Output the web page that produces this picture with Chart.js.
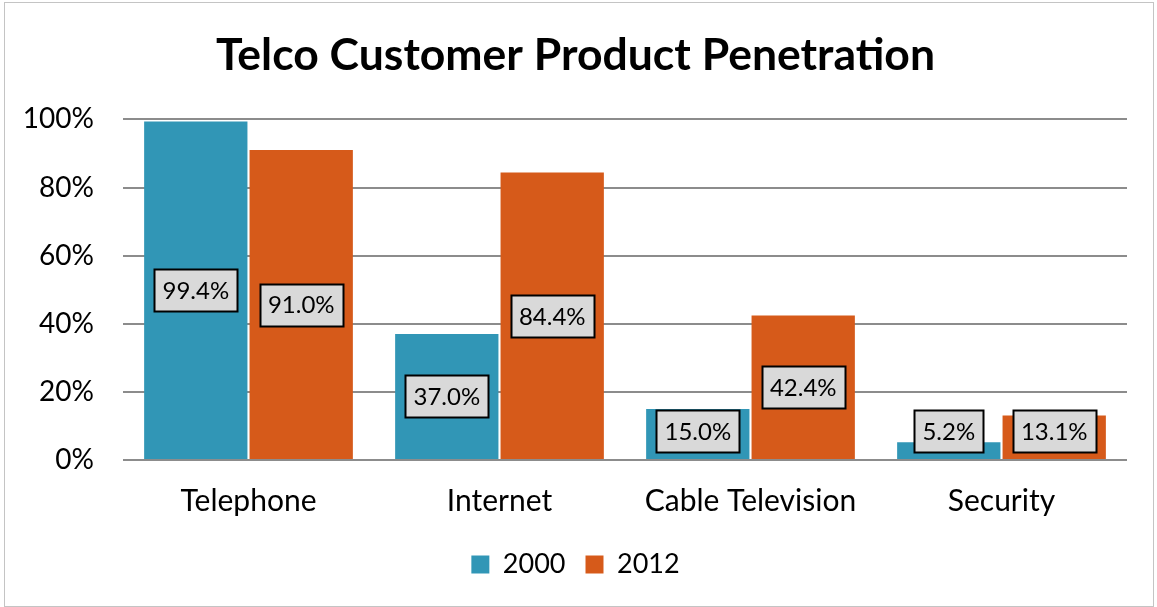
<!DOCTYPE html>
<html lang="en">

<head>
  <meta charset="UTF-8">
  <title>Telco Customer Product Penetration</title>
  <script src="https://cdn.jsdelivr.net/npm/chart.js@4.4.1/dist/chart.umd.min.js"></script>
  <style>
    body { margin: 0; background: #fff; }
    #wrap { position: absolute; left: 4px; top: 2px; width: 1148px; height: 603px; border: 1px solid #c4c4c4; }
    canvas { position: absolute; left: 0; top: 0; }
  </style>
</head>

<body>
  <div id="wrap"></div>
  <canvas id="chart" width="1157" height="607"></canvas>

  <script>
    const products = ['Telephone', 'Internet', 'Cable Television', 'Security'];
    const years = ['2000', '2012'];
    const share2000 = [99.4, 37.0, 15.0, 5.2];
    const share2012 = [91.0, 84.4, 42.4, 13.1];
    const yTicks = [0, 20, 40, 60, 80, 100];

    const FONT = 'Lato';
    const LEFT_PAD = 24;
    const RIGHT_PAD = 30;
    const BOTTOM_PAD = 19;
    const AREA_LEFT = 123;
    const AREA_BOTTOM = 460;

    // value boxes sit in the middle of each bar, kept clear of the baseline
    const valueBoxes = {
      id: 'valueBoxes',
      afterDatasetsDraw(chart) {
        const ctx = chart.ctx;
        const area = chart.chartArea;
        ctx.save();
        ctx.font = '24px ' + FONT;
        ctx.textAlign = 'center';
        ctx.textBaseline = 'middle';
        chart.data.datasets.forEach((ds, i) => {
          chart.getDatasetMeta(i).data.forEach((bar, j) => {
            const text = ds.data[j].toFixed(1) + '%';
            const w = Math.round(ctx.measureText(text).width + 16);
            const h = 42;
            let cy = (bar.y + bar.base) / 2;
            cy = Math.min(cy, area.bottom - 8 - h / 2);
            const x0 = Math.round(bar.x - w / 2) + 0.5;
            const y0 = Math.round(cy - h / 2) + 0.5;
            ctx.fillStyle = '#d9d9d9';
            ctx.fillRect(x0, y0, w, h);
            ctx.lineWidth = 2;
            ctx.strokeStyle = '#000';
            ctx.strokeRect(x0, y0, w, h);
            ctx.fillStyle = '#000';
            ctx.fillText(text, bar.x, cy + 1);
          });
        });
        ctx.restore();
      }
    };

    const context = document.getElementById('chart').getContext('2d');
    const chart = new Chart(context, {
      type: 'bar',
      data: {
        labels: products,
        datasets: [
          {
            label: years[0],
            data: share2000,
            backgroundColor: '#3196b6',
          },
          {
            label: years[1],
            data: share2012,
            backgroundColor: '#d65a1a',
          }
        ]
      },
      options: {
        responsive: false,
        animation: false,
        layout: {
          padding: { left: LEFT_PAD, right: RIGHT_PAD, top: 0, bottom: BOTTOM_PAD }
        },
        datasets: {
          bar: {
            categoryPercentage: 0.84,
            barPercentage: 0.98,
          }
        },
        scales: {
          x: {
            afterFit: (scale) => {
              scale.height = scale.chart.height - BOTTOM_PAD - scale.chart.legend.height - AREA_BOTTOM;
            },
            grid: { display: false },
            border: { display: false },
            ticks: {
              color: '#000',
              font: { family: FONT, size: 30 },
              padding: 15,
            }
          },
          y: {
            min: 0,
            max: 100,
            afterFit: (scale) => { scale.width = AREA_LEFT - LEFT_PAD; },
            afterBuildTicks: (scale) => { scale.ticks = yTicks.map(v => ({ value: v })); },
            grid: { color: '#8c8c8c', lineWidth: 2, drawTicks: false },
            border: { display: false },
            ticks: {
              color: '#000',
              font: { family: FONT, size: 28 },
              padding: 29,
              callback: (v) => v + '%',
            }
          }
        },
        plugins: {
          title: {
            display: true,
            text: 'Telco Customer Product Penetration',
            color: '#000',
            font: { family: FONT, size: 44.5, weight: 'bold' },
            padding: { top: 29, bottom: 37 }
          },
          legend: {
            position: 'bottom',
            labels: {
              color: '#000',
              font: { family: FONT, size: 27 },
              boxWidth: 18,
              boxHeight: 18,
              padding: 20,
            }
          },
          tooltip: { enabled: false }
        }
      },
      plugins: [valueBoxes]
    });
  </script>
</body>

</html>
